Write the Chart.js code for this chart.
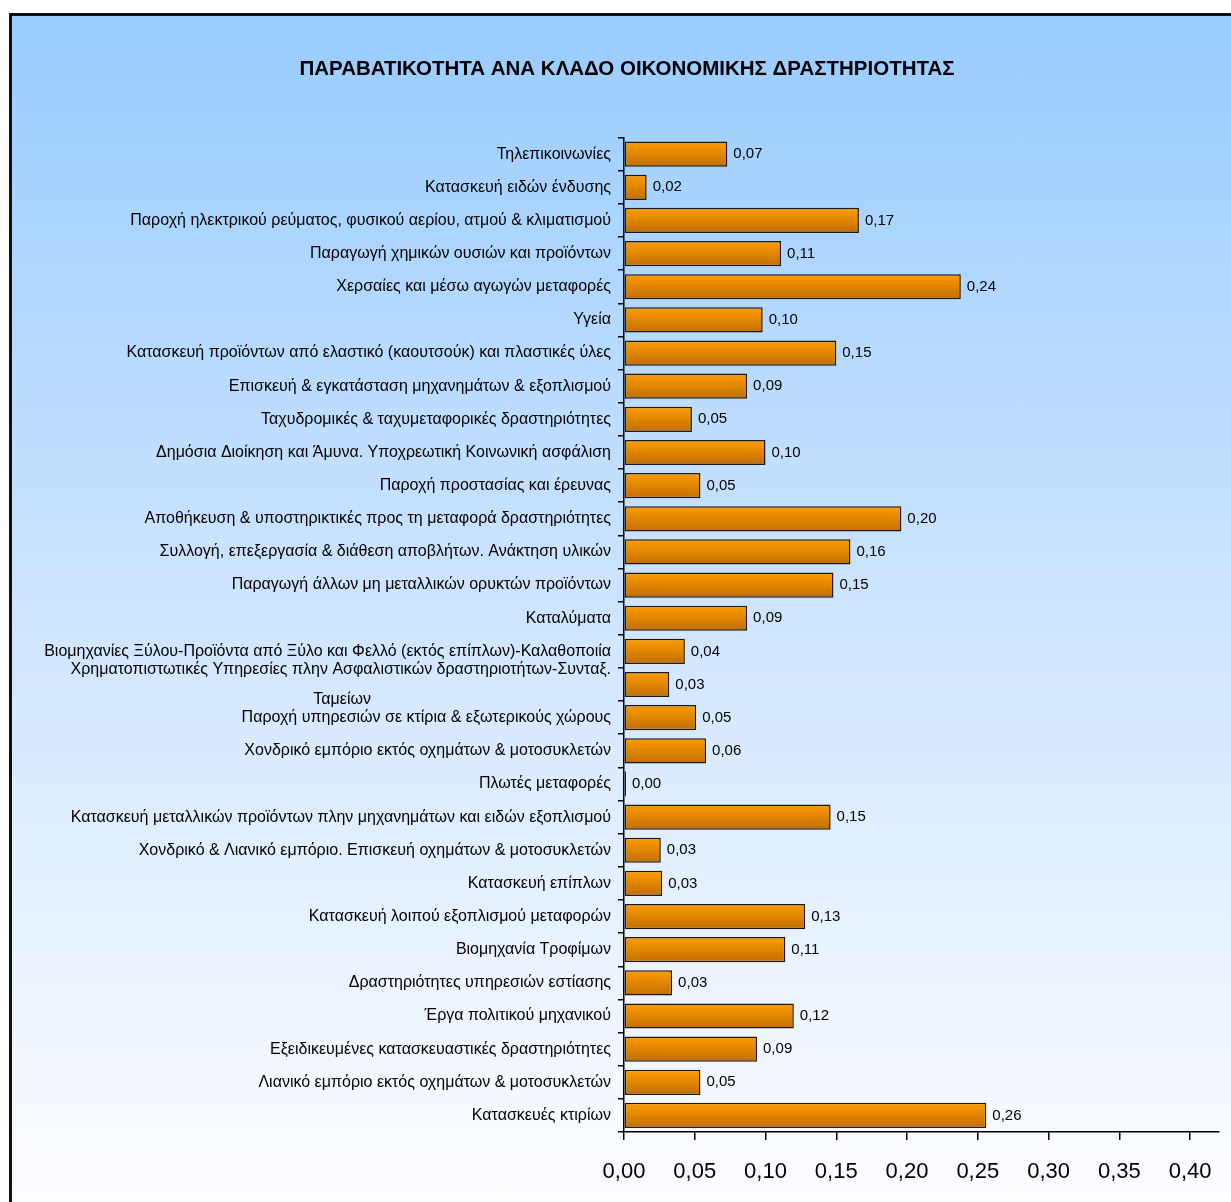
<!DOCTYPE html>
<html>
<head>
<meta charset="utf-8">
<script src="https://cdn.jsdelivr.net/npm/chart.js@4"></script>
<style>
    html, body { margin: 0; padding: 0; background: #fff; overflow: hidden; }
    #frame {
        position: absolute;
        left: 9px;
        top: 13px;
        width: 1300px;
        height: 1300px;
        border-left: 3px solid #111;
        border-top: 3px solid #111;
        background: linear-gradient(to bottom, #99ccff 0px, #cfe5ff 600px, #fdfdff 1186px);
    }
    canvas { display: block; }
</style>
</head>
<body>
<div id="frame">
    <canvas id="grafico" width="1219" height="1186"></canvas>
</div>
<script>
const titulo = 'ΠΑΡΑΒΑΤΙΚΟΤΗΤΑ ΑΝΑ ΚΛΑΔΟ ΟΙΚΟΝΟΜΙΚΗΣ ΔΡΑΣΤΗΡΙΟΤΗΤΑΣ';

const categorias = [
    'Τηλεπικοινωνίες',
    'Κατασκευή ειδών ένδυσης',
    'Παροχή ηλεκτρικού ρεύματος, φυσικού αερίου, ατμού & κλιματισμού',
    'Παραγωγή χημικών ουσιών και προϊόντων',
    'Χερσαίες και μέσω αγωγών μεταφορές',
    'Υγεία',
    'Κατασκευή προϊόντων από ελαστικό (καουτσούκ) και πλαστικές ύλες',
    'Επισκευή & εγκατάσταση μηχανημάτων & εξοπλισμού',
    'Ταχυδρομικές & ταχυμεταφορικές δραστηριότητες',
    'Δημόσια Διοίκηση και Άμυνα. Υποχρεωτική Κοινωνική ασφάλιση',
    'Παροχή προστασίας και έρευνας',
    'Αποθήκευση & υποστηρικτικές προς τη μεταφορά δραστηριότητες',
    'Συλλογή, επεξεργασία & διάθεση αποβλήτων. Ανάκτηση υλικών',
    'Παραγωγή άλλων μη μεταλλικών ορυκτών προϊόντων',
    'Καταλύματα',
    'Βιομηχανίες Ξύλου-Προϊόντα από Ξύλο και Φελλό (εκτός επίπλων)-Καλαθοποιία',
    ['Χρηματοπιστωτικές Υπηρεσίες πλην Ασφαλιστικών δραστηριοτήτων-Συνταξ.', 'Ταμείων'],
    'Παροχή υπηρεσιών σε κτίρια & εξωτερικούς χώρους',
    'Χονδρικό εμπόριο εκτός οχημάτων & μοτοσυκλετών',
    'Πλωτές μεταφορές',
    'Κατασκευή μεταλλικών προϊόντων πλην μηχανημάτων και ειδών εξοπλισμού',
    'Χονδρικό & Λιανικό εμπόριο. Επισκευή οχημάτων & μοτοσυκλετών',
    'Κατασκευή επίπλων',
    'Κατασκευή λοιπού εξοπλισμού μεταφορών',
    'Βιομηχανία Τροφίμων',
    'Δραστηριότητες υπηρεσιών εστίασης',
    'Έργα πολιτικού μηχανικού',
    'Εξειδικευμένες κατασκευαστικές δραστηριότητες',
    'Λιανικό εμπόριο εκτός οχημάτων & μοτοσυκλετών',
    'Κατασκευές κτιρίων'
];

const valores = [
    0.073, 0.016, 0.166, 0.111, 0.238, 0.098, 0.150, 0.087, 0.048, 0.100,
    0.054, 0.196, 0.160, 0.148, 0.087, 0.043, 0.032, 0.051, 0.058, 0.0014,
    0.146, 0.026, 0.027, 0.128, 0.114, 0.034, 0.120, 0.094, 0.054, 0.256
];

const ticksX = [0, 0.05, 0.10, 0.15, 0.20, 0.25, 0.30, 0.35, 0.40];

const familia = '"Liberation Sans", Arial, sans-serif';
const fonteRotulo = '16px ' + familia;
const espessura = 0.76;

function formatar(v) {
    return v.toFixed(2).replace('.', ',');
}

// centraliza a segunda linha do rótulo quebrado, como no original
const medidor = document.createElement('canvas').getContext('2d');
medidor.font = fonteRotulo;
function rotuloY(valor, indice) {
    const rot = categorias[indice];
    if (!Array.isArray(rot)) return rot;
    const w1 = medidor.measureText(rot[0]).width;
    const w2 = medidor.measureText(rot[1]).width;
    const esp = medidor.measureText('\u00a0').width;
    const n = Math.round(((w1 - w2) / 2) / esp);
    return [rot[0], rot[1] + '\u00a0'.repeat(n)];
}

// degradê laranja em cada barra (claro em cima, escuro embaixo)
function corBarra(c) {
    const chart = c.chart;
    const y = chart.scales.y;
    if (!y || !chart.chartArea || c.dataIndex === undefined) return '#f08c00';
    const centro = y.getPixelForValue(c.dataIndex);
    const h = chart.chartArea.height / categorias.length * espessura;
    const g = chart.ctx.createLinearGradient(0, centro - h / 2, 0, centro + h / 2);
    g.addColorStop(0, '#ff9c00');
    g.addColorStop(1, '#c06e00');
    return g;
}

const rotulosValores = {
    id: 'rotulosValores',
    afterDatasetsDraw(chart) {
        const ctx = chart.ctx;
        ctx.save();
        ctx.font = '15px ' + familia;
        ctx.fillStyle = '#000';
        ctx.textAlign = 'left';
        ctx.textBaseline = 'middle';
        chart.getDatasetMeta(0).data.forEach((bar, i) => {
            ctx.fillText(formatar(valores[i]), bar.x + 6, bar.y);
        });
        ctx.restore();
    }
};

const ctx = document.getElementById('grafico').getContext('2d');

new Chart(ctx, {
    type: 'bar',
    data: {
        labels: categorias,
        datasets: [{
            data: valores,
            backgroundColor: corBarra,
            borderColor: '#1a1a1a',
            borderWidth: 1.5,
            borderSkipped: false,
            barPercentage: espessura,
            categoryPercentage: 1
        }]
    },
    options: {
        indexAxis: 'y',
        responsive: false,
        animation: false,
        devicePixelRatio: 1,
        layout: { padding: { left: 22, right: 11, top: 0, bottom: 0 } },
        plugins: {
            legend: { display: false },
            tooltip: { enabled: false },
            title: {
                display: true,
                text: titulo,
                color: '#000',
                font: { family: familia, size: 20.5, weight: 'bold', lineHeight: 1.2 },
                padding: { top: 41, bottom: 56 }
            }
        },
        scales: {
            y: {
                afterFit(scale) { scale.width = 590; },
                grid: { drawOnChartArea: false, offset: true, tickLength: 6, color: '#000', lineWidth: 1.5 },
                border: { color: '#000', width: 1.5 },
                ticks: {
                    autoSkip: false,
                    color: '#000',
                    padding: 7,
                    font: { family: familia, size: 16, lineHeight: 1.85 },
                    callback: rotuloY
                }
            },
            x: {
                min: 0,
                max: 0.42,
                afterFit(scale) { scale.height = 70; },
                afterBuildTicks(scale) { scale.ticks = ticksX.map(v => ({ value: v })); },
                grid: { drawOnChartArea: false, tickLength: 8, color: '#000', lineWidth: 1.5 },
                border: { color: '#000', width: 1.5 },
                ticks: {
                    color: '#000',
                    padding: 19,
                    maxRotation: 0,
                    font: { family: familia, size: 22 },
                    callback: v => formatar(v)
                }
            }
        }
    },
    plugins: [rotulosValores]
});
</script>
</body>
</html>
